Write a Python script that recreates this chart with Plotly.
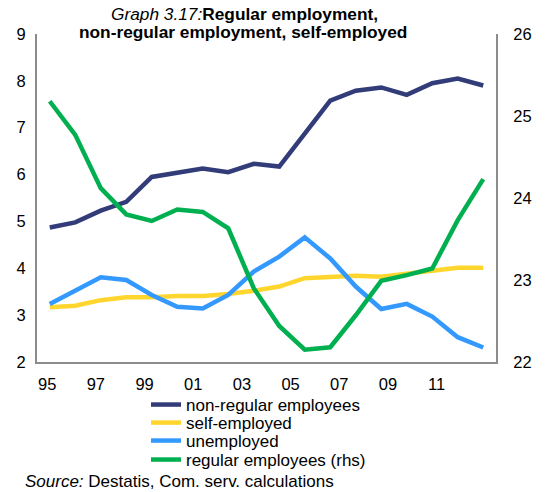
import plotly.graph_objects as go

years = list(range(1995, 2013))
non_regular = [4.87, 4.98, 5.23, 5.42, 5.95, 6.03, 6.13, 6.05, 6.23, 6.17,
               6.88, 7.58, 7.79, 7.86, 7.70, 7.95, 8.05, 7.90]
self_employed = [3.17, 3.20, 3.32, 3.38, 3.38, 3.41, 3.41, 3.45, 3.52, 3.61,
                 3.79, 3.82, 3.84, 3.82, 3.88, 3.93, 4.01, 4.01]
unemployed = [3.24, 3.52, 3.81, 3.75, 3.43, 3.18, 3.14, 3.43, 3.93, 4.25,
              4.66, 4.21, 3.61, 3.13, 3.24, 2.97, 2.53, 2.31]
regular = [25.18, 24.77, 24.12, 23.80, 23.72, 23.86, 23.83, 23.63, 22.90, 22.44,
           22.15, 22.18, 22.57, 22.99, 23.06, 23.14, 23.73, 24.23]
label_years = [1995, 1997, 1999, 2001, 2003, 2005, 2007, 2009, 2011]
label_text = ["95", "97", "99", "01", "03", "05", "07", "09", "11"]
left_ticks = [2, 3, 4, 5, 6, 7, 8, 9]
right_ticks = [22, 23, 24, 25, 26]

FONT = "Liberation Sans, Arial, sans-serif"
OFF = 8  # page body margin
W, H = 546 - OFF, 492 - OFF
L, R, T, B = 37 - OFF, 546 - 496, 34 - OFF, 492 - 362
PW, PH = W - L - R, H - T - B


def px(xa):
    return (xa - OFF - L) / PW


def py(ya):
    return 1 - (ya - OFF - T) / PH


COLORS = ["#323C78", "#FFD52E", "#3399FF", "#00B050"]
names = ["non-regular employees", "self-employed", "unemployed",
         "regular employees (rhs)"]
series = [non_regular, self_employed, unemployed, regular]
legend_ids = ["legend", "legend2", "legend3", "legend4"]
legend_y = [405, 423, 441, 460]

fig = go.Figure()
for i, (nm, s) in enumerate(zip(names, series)):
    fig.add_trace(go.Scatter(x=years, y=s, name=nm, mode="lines",
                             line=dict(color=COLORS[i], width=4.5),
                             yaxis="y2" if i == 3 else "y",
                             legend=legend_ids[i]))

layout = dict(
    width=W, height=H,
    margin=dict(l=L, r=R, t=T, b=B, pad=0, autoexpand=False),
    paper_bgcolor="white", plot_bgcolor="white",
    font=dict(family=FONT, size=16, color="black"),
    showlegend=True,
    xaxis=dict(range=[1994.5, 2012.5],
               tickvals=[1994.9 + 0.9544 * (yr - 1995) for yr in label_years],
               ticktext=label_text, tickangle=0, showgrid=False, zeroline=False,
               showline=True, linecolor="#8C8C8C", linewidth=2,
               ticks="outside", ticklen=6, tickcolor="rgba(0,0,0,0)",
               tickfont=dict(size=16.5)),
    yaxis=dict(range=[2, 9], tickvals=left_ticks, showgrid=False, zeroline=False,
               showline=True, linecolor="#8C8C8C", linewidth=2,
               ticks="outside", ticklen=6, tickcolor="rgba(0,0,0,0)",
               tickfont=dict(size=16.5)),
    yaxis2=dict(range=[22, 26], tickvals=right_ticks, overlaying="y", side="right",
                showgrid=False, zeroline=False,
                showline=True, linecolor="#8C8C8C", linewidth=2,
                ticks="outside", ticklen=12, tickcolor="rgba(0,0,0,0)",
                tickfont=dict(size=16.5)),
    annotations=[
        dict(text="<i>Graph 3.17:</i><b>Regular employment,</b>",
             xref="paper", yref="paper", x=px(244), y=py(13.5),
             xanchor="center", yanchor="middle", borderpad=0,
             showarrow=False, font=dict(size=17.3)),
        dict(text="<b>non-regular employment, self-employed</b>",
             xref="paper", yref="paper", x=px(243), y=py(32),
             xanchor="center", yanchor="middle", borderpad=0,
             showarrow=False, font=dict(size=17.3)),
        dict(text="<i>Source:</i> Destatis, Com. serv. calculations",
             xref="paper", yref="paper", x=px(24), y=py(481),
             xanchor="left", yanchor="middle", borderpad=0,
             showarrow=False, font=dict(size=17)),
    ],
)
for lid, ly in zip(legend_ids, legend_y):
    layout[lid] = dict(x=px(146), y=py(ly), xanchor="left", yanchor="middle",
                       bgcolor="rgba(0,0,0,0)", font=dict(size=17),
                       itemwidth=30)

fig.update_layout(**layout)
fig.write_html("out.html")
